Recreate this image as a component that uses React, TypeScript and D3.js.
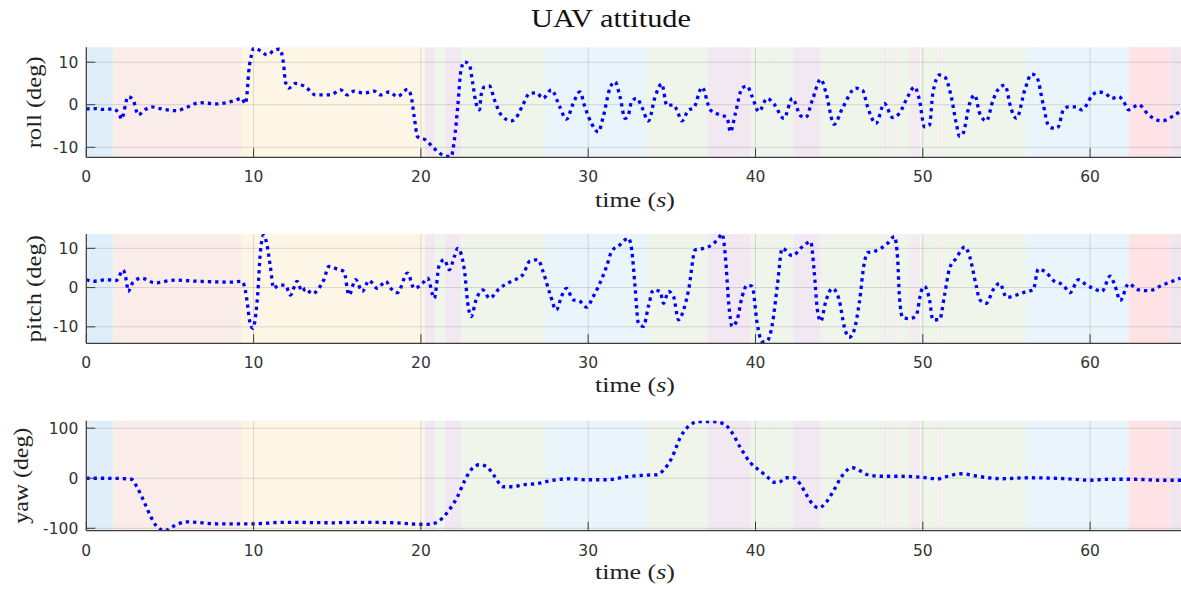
import React from "react";
import * as d3 from "d3";

// ---------- data ----------
const xTicks = [0, 10, 20, 30, 40, 50, 60];
const rollTicks = [-10, 0, 10];
const pitchTicks = [-10, 0, 10];
const yawTicks = [-100, 0, 100];

// flight-mode shaded intervals (s)
const modeBreaks = [0, 1.61, 9.25, 20.25, 20.84, 21.44, 22.43, 27.42, 33.4, 37.14, 39.67, 41.1, 41.2, 42.26, 43.9, 47.65, 47.85, 48.2, 48.35, 49.25, 49.85, 50.95, 51.1, 56.15, 62.3, 64.8, 65.6];
const modeColors = ["#dfeef8", "#f9ece9", "#fdf6e6", "#f1e8f2", "#eff5ea", "#f1e8f2", "#eff5ea", "#e9f5fb", "#eff5ea", "#f1e8f2", "#eff5ea", "#f3eaf2", "#eff5ea", "#f1e8f2", "#eff5ea", "#f3eaf2", "#eff5ea", "#f3eaf2", "#eff5ea", "#f3eaf2", "#eff5ea", "#f8eaee", "#eff5ea", "#e9f5fb", "#fde3e6", "#efe6ef"];

const rollT = [0, 0.5, 1.0, 1.6, 2.0, 2.1, 2.5, 2.8, 3.1, 3.5, 3.9, 4.4, 5.4, 6.0, 6.8, 7.8, 8.8, 9.3, 9.5, 9.6, 9.7, 9.9, 10.0, 10.4, 10.8, 11.2, 11.55, 11.8, 11.9, 12.1, 12.5, 13.1, 13.7, 14.6, 15.2, 15.6, 16.0, 16.6, 17.2, 17.6, 18.1, 18.6, 19.2, 19.4, 19.6, 19.8, 20.3, 20.7, 21.2, 21.8, 22.0, 22.2, 22.4, 22.6, 22.9, 23.1, 23.3, 23.5, 23.6, 23.8, 24.1, 24.4, 24.8, 25.4, 25.7, 26.1, 26.5, 26.9, 27.3, 27.8, 28.3, 28.7, 29.1, 29.5, 29.8, 30.2, 30.6, 30.9, 31.3, 31.6, 31.9, 32.2, 32.4, 32.6, 32.9, 33.2, 33.6, 34.0, 34.4, 34.7, 35.1, 35.3, 35.6, 36.0, 36.3, 36.8, 37.3, 37.9, 38.3, 38.5, 38.8, 39.2, 39.5, 39.8, 40.2, 40.7, 41.1, 41.7, 42.2, 42.7, 43.0, 43.4, 43.9, 44.2, 44.7, 45.2, 46.0, 46.4, 46.7, 47.2, 47.7, 48.2, 48.6, 49.1, 49.5, 49.8, 50.1, 50.4, 50.6, 51.0, 51.3, 51.7, 52.0, 52.2, 52.4, 52.8, 53.1, 53.4, 53.8, 54.2, 54.6, 54.9, 55.3, 55.6, 56.1, 56.5, 56.8, 57.2, 57.5, 57.9, 58.1, 58.4, 58.7, 59.2, 59.5, 59.8, 60.1, 60.5, 60.9, 61.3, 61.7, 62.0, 62.3, 62.9, 63.5, 64.3, 64.9, 65.5];
const rollV = [-1.0, -0.9, -1.1, -1.0, -2.4, -3.4, 1.9, 1.1, -2.4, -1.2, -0.5, -0.9, -1.4, -0.6, 0.5, 0.2, 0.9, 1.5, 0.2, 2.3, 7.4, 12.1, 13.3, 12.7, 11.7, 12.7, 13.1, 9.3, 5.4, 3.9, 5.0, 4.2, 2.3, 2.3, 3.5, 2.3, 3.2, 2.7, 3.2, 2.3, 3.0, 1.9, 3.6, 2.3, -2.8, -7.5, -8.3, -9.9, -11.6, -12.2, -8.3, -0.5, 8.2, 10.1, 9.3, 5.0, 0.3, -1.2, 2.3, 4.2, 4.4, 1.1, -2.4, -3.8, -3.0, 0.0, 2.7, 2.8, 1.5, 3.5, -0.5, -3.4, 0.3, 3.0, -0.5, -4.4, -6.4, -2.8, 3.9, 5.4, 1.9, -3.2, -2.4, 0.8, 1.5, -0.5, -3.8, 1.9, 4.9, -0.2, 0.0, -1.2, -3.8, -1.2, -0.8, 4.1, -1.2, -2.4, -3.0, -6.4, -2.0, 3.9, 4.4, 1.9, -1.6, 1.5, 0.2, -3.2, 1.5, -2.6, -3.0, 1.1, 6.0, 3.0, -4.6, -0.8, 3.9, 3.4, -0.5, -4.4, 0.3, -3.0, -2.0, 1.9, 4.2, 1.1, -5.2, -4.8, 2.7, 7.0, 6.6, 1.9, -4.4, -7.4, -6.8, 0.3, 2.3, -2.0, -3.8, 1.1, 4.1, 4.6, -1.2, -3.2, 3.5, 7.2, 6.6, 0.0, -4.8, -5.6, -5.2, -1.2, -0.5, -0.5, -1.2, 0.0, 2.1, 3.0, 2.7, 1.5, 1.9, 0.8, -1.2, 0.0, -2.4, -3.8, -2.8, -1.2];

const pitchT = [0, 0.4, 1.2, 1.8, 2.2, 2.4, 2.5, 2.8, 3.3, 4.1, 5.3, 6.7, 8.7, 9.3, 9.5, 9.65, 9.75, 9.95, 10.1, 10.25, 10.4, 10.6, 10.8, 11.0, 11.2, 11.5, 11.9, 12.2, 12.6, 12.9, 13.1, 13.5, 13.9, 14.2, 14.5, 15.0, 15.4, 15.7, 16.1, 16.5, 16.9, 17.4, 17.9, 18.2, 18.6, 19.2, 19.6, 20.1, 20.4, 20.8, 21.1, 21.4, 21.7, 22.0, 22.2, 22.6, 22.8, 23.0, 23.3, 23.7, 24.1, 24.7, 25.4, 26.1, 26.5, 27.0, 27.3, 27.7, 28.1, 28.4, 28.7, 29.1, 29.5, 29.9, 30.3, 30.7, 31.1, 31.4, 31.9, 32.4, 32.6, 32.8, 33.0, 33.3, 33.6, 33.9, 34.3, 34.5, 34.8, 35.1, 35.4, 35.7, 36.0, 36.4, 36.9, 37.4, 37.8, 38.0, 38.2, 38.4, 38.6, 38.9, 39.2, 39.5, 39.8, 40.1, 40.4, 40.7, 41.0, 41.3, 41.6, 42.2, 42.8, 43.3, 43.5, 43.7, 43.9, 44.2, 44.6, 45.0, 45.3, 45.6, 45.9, 46.2, 46.5, 46.7, 47.1, 47.5, 47.9, 48.3, 48.5, 48.6, 48.8, 49.2, 49.6, 49.9, 50.1, 50.4, 50.6, 51.0, 51.3, 51.6, 52.0, 52.3, 52.5, 52.8, 53.2, 53.4, 53.8, 54.2, 54.6, 55.0, 55.6, 56.2, 56.6, 56.9, 57.4, 57.8, 58.4, 58.8, 59.3, 59.8, 60.2, 60.7, 61.2, 61.5, 61.8, 62.3, 62.9, 63.5, 64.3, 65.4];
const pitchV = [2.0, 1.6, 2.0, 1.8, 4.5, 1.6, -1.0, 1.4, 2.4, 1.2, 1.9, 1.6, 1.4, 1.6, -0.6, -4.8, -8.2, -10.4, -7.9, -1.4, 8.8, 13.4, 10.9, 5.4, -0.2, 0.6, 0.6, -1.9, 1.6, -1.0, -0.2, -1.6, -0.2, 2.0, 5.4, 4.7, 4.1, -1.9, 2.0, -1.0, 1.8, -0.2, 1.6, -0.2, -1.3, 3.7, -0.2, 1.1, 2.4, -2.7, 5.8, 7.1, 4.5, 7.9, 10.0, 4.5, -4.0, -7.4, -3.1, -0.6, -2.7, -0.2, 1.6, 3.3, 6.7, 7.1, 4.1, -1.4, -5.7, -2.3, -0.2, -3.1, -3.5, -5.0, -2.3, 1.1, 5.4, 9.2, 10.9, 12.6, 9.6, 0.3, -9.1, -9.9, -4.8, -0.6, -1.0, -4.0, -1.0, -2.3, -8.2, -5.7, -0.6, 9.6, 10.0, 10.9, 12.6, 13.7, 7.9, -4.0, -9.9, -8.2, -2.3, 0.6, 0.3, -9.1, -13.8, -13.6, -9.5, 0.3, 10.0, 8.1, 10.4, 11.7, 4.5, -5.7, -8.6, -3.5, -0.2, -3.1, -9.9, -12.7, -10.8, -4.0, 6.2, 8.9, 9.2, 10.0, 11.3, 13.0, 7.1, -2.3, -7.7, -7.9, -7.2, -1.0, 0.3, -3.1, -8.2, -8.2, -1.9, 4.9, 7.5, 9.6, 10.4, 7.9, 0.3, -3.1, -4.0, -0.6, 1.1, -2.5, -1.9, -1.0, -0.6, 4.7, 3.7, 1.8, 0.6, -1.3, 2.0, 0.6, -0.2, -1.0, 2.9, 0.3, -3.3, 1.0, -0.6, -0.8, 0.6, 2.4];

const yawT = [0, 1.0, 2.0, 2.7, 3.0, 3.4, 3.8, 4.2, 4.7, 5.2, 6.0, 7.8, 10.0, 11.8, 14.8, 16.1, 18.5, 19.9, 20.4, 20.9, 21.3, 21.7, 22.2, 22.6, 23.0, 23.5, 23.9, 24.4, 24.9, 25.5, 26.1, 26.9, 27.9, 28.8, 29.9, 31.1, 32.3, 33.3, 34.1, 34.5, 35.0, 35.5, 36.0, 36.6, 37.5, 38.1, 38.6, 39.1, 39.7, 40.3, 40.7, 41.1, 41.4, 41.8, 42.3, 42.7, 43.1, 43.5, 43.8, 44.2, 44.7, 45.1, 45.5, 45.8, 46.3, 46.7, 47.5, 48.7, 49.9, 50.9, 51.5, 52.3, 53.1, 53.9, 54.7, 56.3, 57.9, 59.1, 59.9, 61.1, 62.5, 64.3, 65.5];
const yawV = [0, 0, -0.5, -2, -16, -43, -73, -96, -105, -96, -87, -91, -91, -88, -89, -88, -89, -92, -92, -89, -79, -63, -36, -6, 17, 27, 24, 4, -17, -17, -13, -11, -4, -1, -3, -3, 3, 6, 7, 16, 41, 81, 104, 113, 113, 109, 91, 61, 31, 14, 3, -8, -8, 1, 1, -13, -36, -55, -59, -49, -23, 1, 17, 21, 14, 7, 4, 4, 2, -1, 4, 9, 5, 1, -1, 1, 0, -2, -4, -2, -2, -4, -4];

// ---------- layout ----------
const W = 1181;
const H = 590;
const X0 = 86.3;
const XMAX = 65.6;
const PX_PER_S = 16.73;

const panels = [
  { label: "roll (deg)", top: 47.3, bottom: 157.3, domain: [-12.35, 13.5], ticks: rollTicks, t: rollT, v: rollV, ylabX: 34, ylabLen: 92, xlabY: 207 },
  { label: "pitch (deg)", top: 234, bottom: 343.3, domain: [-14.2, 13.65], ticks: pitchTicks, t: pitchT, v: pitchV, ylabX: 34, ylabLen: 107, xlabY: 392 },
  { label: "yaw (deg)", top: 420.7, bottom: 530.7, domain: [-104.8, 115], ticks: yawTicks, t: yawT, v: yawV, ylabX: 21, ylabLen: 96, xlabY: 579 },
];

const serif = "'Liberation Serif', 'Times New Roman', serif";
const sans = "'DejaVu Sans', sans-serif";
const txt = "#333333";
const axisCol = "#3c3c3c";

export default function App() {
  const x = d3.scaleLinear().domain([0, XMAX]).range([X0, X0 + PX_PER_S * XMAX]);
  return (
    <svg width={W} height={H} style={{ position: "absolute", left: 0, top: 0, background: "#fff" }}>
      <text x={611} y={27} textAnchor="middle" fontFamily={serif} fontSize={26} textLength={160} lengthAdjust="spacingAndGlyphs" fill="#111">UAV attitude</text>
      {panels.map((p, pi) => {
        const y = d3.scaleLinear().domain(p.domain).range([p.bottom, p.top]);
        const line = d3.line<number>()
          .x((_, i) => x(p.t[i]))
          .y((d) => y(d))
          .curve(d3.curveMonotoneX);
        const clipId = `clip${pi}`;
        const right = x(XMAX);
        return (
          <g key={pi}>
            <defs>
              <clipPath id={clipId}>
                <rect x={X0} y={p.top} width={right - X0} height={p.bottom - p.top} />
              </clipPath>
            </defs>
            {modeColors.map((c, i) => (
              <rect key={i} x={x(modeBreaks[i])} y={p.top} width={Math.max(0, x(modeBreaks[i + 1]) - x(modeBreaks[i]))} height={p.bottom - p.top} fill={c} />
            ))}
            {xTicks.map((t) => (
              <line key={"gx" + t} x1={x(t)} x2={x(t)} y1={p.top} y2={p.bottom} stroke="#000" strokeOpacity={0.13} strokeWidth={1} />
            ))}
            {p.ticks.map((t) => (
              <line key={"gy" + t} x1={X0} x2={right} y1={y(t)} y2={y(t)} stroke="#000" strokeOpacity={0.13} strokeWidth={1} />
            ))}
            <path d={line(p.v) || ""} fill="none" stroke="#0000ff" strokeWidth={3.3} strokeDasharray="3.3 4" clipPath={`url(#${clipId})`} />
            <line x1={X0} x2={X0} y1={p.top} y2={p.bottom} stroke={axisCol} strokeWidth={1.2} />
            <line x1={X0} x2={right} y1={p.bottom} y2={p.bottom} stroke={axisCol} strokeWidth={1.2} />
            {xTicks.map((t) => (
              <g key={"tx" + t}>
                <line x1={x(t)} x2={x(t)} y1={p.bottom} y2={p.bottom - 9} stroke={axisCol} strokeWidth={1} />
                <text x={x(t)} y={p.bottom + 25} textAnchor="middle" fontFamily={sans} fontSize={15.5} fill={txt}>{t}</text>
              </g>
            ))}
            {p.ticks.map((t) => (
              <g key={"ty" + t}>
                <line x1={X0} x2={X0 + 9} y1={y(t)} y2={y(t)} stroke={axisCol} strokeWidth={1} />
                <text x={X0 - 8} y={y(t) + 5.5} textAnchor="end" fontFamily={sans} fontSize={15.5} fill={txt}>{t}</text>
              </g>
            ))}
            <text x={635} y={p.xlabY} textAnchor="middle" fontFamily={serif} fontSize={22} textLength={80} lengthAdjust="spacingAndGlyphs" fill="#222">
              time (<tspan fontStyle="italic">s</tspan>)
            </text>
            <text transform={`translate(${p.ylabX + 7},${(p.top + p.bottom) / 2}) rotate(-90)`} textAnchor="middle" fontFamily={serif} fontSize={22} textLength={p.ylabLen} lengthAdjust="spacingAndGlyphs" fill="#222">{p.label}</text>
          </g>
        );
      })}
    </svg>
  );
}
